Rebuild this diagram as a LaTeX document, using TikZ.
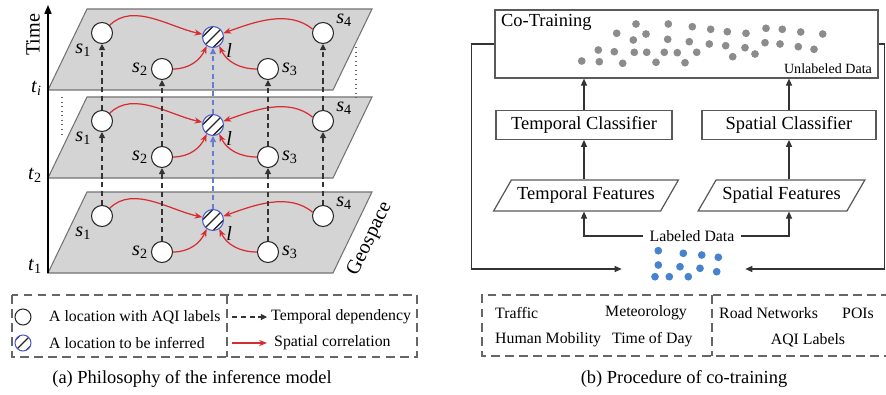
\documentclass[tikz,border=0pt]{standalone}
\usepackage{fontspec}
\setmainfont{Liberation Serif}
\usetikzlibrary{arrows.meta, shapes.geometric}

\begin{document}
\begin{tikzpicture}[x=0.02cm, y=-0.02cm, line cap=butt,
    plane/.style={fill=planegray, draw=black!55, line width=0.6pt},
    loc/.style={circle, draw=black!85, fill=white, line width=0.6pt, minimum size=0.42cm, inner sep=0pt},
    qloc/.style={loc, draw=myblue, path picture={
        \foreach \d in {-6pt, 0pt, 6pt}
          \draw[black!85, line width=0.8pt] ([xshift=\d]path picture bounding box.south west) -- ([xshift=\d]path picture bounding box.north east);}},
    slabel/.style={font=\fontsize{11.5}{12}\selectfont, inner sep=1.5pt},
    tdep/.style={-{Triangle[length=3.5pt, width=3.5pt]}, black!80, line width=0.6pt, dash pattern=on 3pt off 2pt},
    ldep/.style={tdep, myblue!80},
    sdep/.style={-{Stealth[length=4.5pt, width=3.5pt]}, myred, line width=0.7pt},
    flow/.style={-{Triangle[length=4pt, width=3.5pt]}, black!80, line width=0.6pt},
    box/.style={draw=black!65, line width=0.7pt, minimum height=0.5cm, font=\fontsize{10.5}{12}\selectfont},
    feat/.style={box, trapezium, trapezium left angle=58, trapezium right angle=122, trapezium stretches=true, minimum height=0.62cm},
    legbox/.style={draw=black!60, line width=0.6pt, dash pattern=on 5pt off 3pt},
    legtext/.style={font=\fontsize{9}{11}\selectfont},
    caption/.style={font=\fontsize{10.5}{12}\selectfont}]

    % --- Definitions ---
    \definecolor{myred}{RGB}{215, 45, 50}
    \definecolor{myblue}{RGB}{70, 90, 200}
    \definecolor{planegray}{RGB}{212, 212, 212}
    \definecolor{dotgray}{RGB}{140, 140, 140}
    \definecolor{dotblue}{RGB}{70, 130, 205}

    \useasboundingbox (0,0) rectangle (886,395);

    % --- (a) Stacked geospace layers ---
    \foreach \k/\yb in {1/273, 2/178, 3/90} {
      \begin{scope}[shift={(48,\yb)}]
        \filldraw[plane] (0,0) -- (285,0) -- (324,-81) -- (39,-81) -- cycle;
        \node[loc, label={[slabel]below left:{\textit{s}\textsubscript{1}}}] (s1-\k) at (54,-57) {};
        \node[loc, label={[slabel]left:{\textit{s}\textsubscript{2}}}] (s2-\k) at (114,-21) {};
        \node[qloc, label={[slabel]-20:{\textit{l}}}] (l-\k) at (165,-53) {};
        \node[loc, label={[slabel]right:{\textit{s}\textsubscript{3}}}] (s3-\k) at (220,-21) {};
        \node[loc, label={[slabel]20:{\textit{s}\textsubscript{4}}}] (s4-\k) at (275,-57) {};
        % spatial correlation
        \draw[sdep] (s1-\k.45) to[out=45, in=168, looseness=0.9] (l-\k.165);
        \draw[sdep] (s4-\k.160) to[out=140, in=20, looseness=0.9] (l-\k.20);
        \draw[sdep] (s2-\k.east) to[out=0, in=245] (l-\k.235);
        \draw[sdep] (s3-\k.west) to[out=180, in=295] (l-\k.305);
      \end{scope}
    }

    % temporal dependency
    \foreach \s in {s1, s2, s3, s4} {
      \draw[tdep] (\s-1) -- (\s-2);
      \draw[tdep] (\s-2) -- (\s-3);
    }
    \draw[ldep] (l-1) -- (l-2);
    \draw[ldep] (l-2) -- (l-3);

    % --- Time axis ---
    \coordinate (tbot) at (48,273);
    \coordinate (ttop) at (48,5);
    \draw[-{Triangle[length=5pt, width=4pt]}, line width=0.7pt] (tbot) -- (ttop);
    \node[slabel, rotate=90] (time) at (33,35) {Time};
    \node[slabel, anchor=east] (ti) at (45,88) {\textit{t}\textsubscript{\textit{i}}};
    \node[slabel, anchor=east] (t2) at (45,175) {\textit{t}\textsubscript{2}};
    \node[slabel, anchor=east] (t1) at (45,266) {\textit{t}\textsubscript{1}};
    \node[slabel, rotate=64] (geo) at (370,239) {Geospace};
    \draw[dotted, black!60, line width=0.6pt] (62,97) -- (62,137);
    \draw[dotted, black!60, line width=0.6pt] (356,47) -- (356,98);

    % --- Legend (a) ---
    \draw[legbox] (12,295) rectangle (417,357);
    \draw[legbox] (227,295) -- (227,357);
    \node[loc, minimum size=0.32cm] (legA) at (23,317) {};
    \node[legtext, anchor=west] (legAt) at (43,317) {A location with AQI labels};
    \node[qloc, minimum size=0.32cm] (legB) at (23,343) {};
    \node[legtext, anchor=west] (legBt) at (43,343) {A location to be inferred};
    \coordinate (ta) at (232,317);
    \coordinate (tb) at (267,317);
    \draw[tdep] (ta) -- (tb);
    \node[legtext, anchor=west] (legCt) at (265,317) {Temporal dependency};
    \coordinate (sa) at (232,343);
    \coordinate (sb) at (267,343);
    \draw[sdep] (sa) -- (sb);
    \node[legtext, anchor=west] (legDt) at (268,343) {Spatial correlation};
    \node[caption] (capa) at (192,379) {(a) Philosophy of the inference model};

    % --- (b) Co-training ---
    \node[box, minimum width=7.66cm, minimum height=1.36cm] (cot) at (686.5,44) {};
    \node[anchor=north west, font=\fontsize{10.5}{12}\selectfont, inner sep=1pt] (cottxt) at (499,12) {Co-Training};
    \node[anchor=south east, font=\fontsize{8}{9}\selectfont, inner sep=1pt] (unl) at (874,76) {Unlabeled Data};
    \foreach \x/\y in {636/24, 668.3/24, 616.7/33.3, 646/34, 692.3/26.7, 710.7/29.3, 727.3/31.7, 746/33.3,
        766/28.3, 782.3/29.3, 800.7/32, 822.7/34, 633.3/40, 667.7/39.3, 689.3/41.7, 709.3/44, 725.7/45.7,
        745/47.7, 765/42.7, 780/44, 798.3/46.7, 814/49.3, 598.3/50, 614.3/51.7, 634.3/52.3, 646.7/52.3,
        664.3/52.3, 677.3/52.7, 696.7/52.3, 732.7/56.7, 755/54, 581.7/61, 599.3/61.7, 622.7/63.3, 656/62.3, 685/62.7}
      \fill[dotgray] (\x,\y) circle (2.2pt);

    \node[box, minimum width=3.52cm] (tclass) at (584,125) {Temporal Classifier};
    \node[box, minimum width=3.48cm] (sclass) at (789,125) {Spatial Classifier};
    \node[feat, minimum width=3.56cm] (tfeat) at (586,195.5) {Temporal Features};
    \node[feat, minimum width=3.34cm] (sfeat) at (781.5,195.5) {Spatial Features};
    \node[legtext] (lab) at (692,236) {Labeled Data};
    \node[minimum width=2.46cm, minimum height=0.5cm, inner sep=0pt] (ldots) at (683.5,269) {};
    \foreach \x/\y in {658.3/250.7, 683.3/253.3, 701.7/255, 718.3/257.3, 658.3/265, 680/266.7,
        700/268.3, 716.7/271.7, 655/276.7, 669.3/276.7, 688.3/276.7}
      \fill[dotblue] (\x,\y) circle (2.2pt);

    \draw[flow] (tclass.north) -- (tclass.north |- cot.south);
    \draw[flow] (sclass.north) -- (sclass.north |- cot.south);
    \draw[flow] (tclass.south |- tfeat.north) -- (tclass.south);
    \draw[flow] (sclass.south |- sfeat.north) -- (sclass.south);
    \draw[flow] (lab.west) -| (tclass.south |- tfeat.south);
    \draw[flow] (lab.east) -| (sclass.south |- sfeat.south);
    \draw[flow] (cot.west) -- ++(-23,0) |- (ldots.west);
    \draw[flow] (cot.east) -- ++(6,0) |- (ldots.east);

    % --- Legend (b) ---
    \draw[legbox] (890,295) -- (482,295) -- (482,356) -- (890,356);
    \draw[legbox] (712,295) -- (712,356);
    \node[legtext, anchor=west] (traffic) at (489,313) {Traffic};
    \node[legtext, anchor=west] (meteo) at (599,313) {Meteorology};
    \node[legtext, anchor=west] (human) at (489,340) {Human Mobility};
    \node[legtext, anchor=west] (tod) at (606,340) {Time of Day};
    \node[legtext, anchor=west] (road) at (713,313) {Road Networks};
    \node[legtext, anchor=west] (poi) at (836,313) {POIs};
    \node[legtext] (aqi) at (808,340) {AQI Labels};
    \node[caption] (capb) at (684,379) {(b) Procedure of co-training};

\end{tikzpicture}
\end{document}
